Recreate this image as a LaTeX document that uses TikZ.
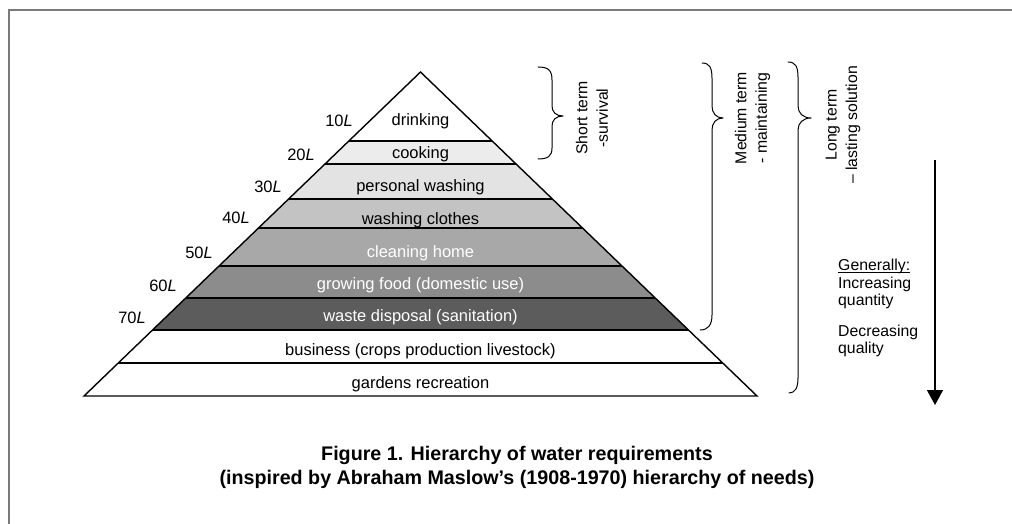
\documentclass[tikz,border=0pt]{standalone}
\usepackage{fontspec}
\setmainfont{Liberation Sans}
\usetikzlibrary{calc,arrows.meta}
\definecolor{lcook}{HTML}{ECECEC}
\definecolor{lwash}{HTML}{E3E3E3}
\definecolor{lclothes}{HTML}{C3C3C3}
\definecolor{lclean}{HTML}{A8A8A8}
\definecolor{lfood}{HTML}{8C8C8C}
\definecolor{lwaste}{HTML}{5C5C5C}
\definecolor{framegray}{HTML}{7A7A7A}
\begin{document}
\begin{tikzpicture}[x=1pt,y=-1pt,
  lbl/.style={inner sep=0pt, anchor=base, font=\fontsize{16.5}{19}\selectfont},
  wlbl/.style={lbl, text=white},
  vol/.style={inner sep=0pt, anchor=base east, font=\fontsize{16.5}{19}\selectfont},
  termtxt/.style={inner sep=0pt, rotate=90, align=center, font=\fontsize{15.8}{20.5}\selectfont},
  bracepath/.style={line width=1pt, line cap=round, line join=round},
  layerline/.style={line width=1.1pt},
]
\useasboundingbox (0,0) rectangle (1012,524);
% frame
\draw[framegray, line width=2pt] (9,524) -- (9,10) -- (1012,10);

% pyramid geometry
\coordinate (A) at (420.5,72);
\coordinate (BL) at (84,396);
\coordinate (BR) at (757,396);
\foreach \n/\y in {1/141,2/164,3/199,4/228,5/266,6/298,7/330,8/363}{
  \coordinate (L\n) at ($(A)!{(\y-72)/324}!(BL)$);
  \coordinate (R\n) at ($(A)!{(\y-72)/324}!(BR)$);
}
\fill[lcook] (L1) -- (R1) -- (R2) -- (L2) -- cycle;
\fill[lwash] (L2) -- (R2) -- (R3) -- (L3) -- cycle;
\fill[lclothes] (L3) -- (R3) -- (R4) -- (L4) -- cycle;
\fill[lclean] (L4) -- (R4) -- (R5) -- (L5) -- cycle;
\fill[lfood] (L5) -- (R5) -- (R6) -- (L6) -- cycle;
\fill[lwaste] (L6) -- (R6) -- (R7) -- (L7) -- cycle;
\foreach \n in {1,...,8}{ \draw[layerline] (L\n) -- (R\n); }
\draw[line width=1.4pt, line join=miter] (A) -- (BR) -- (BL) -- cycle;

% layer labels
\node[lbl] (drink) at (420.5,126) {drinking};
\node[lbl] (cook) at (420.5,159) {cooking};
\node[lbl] (pwash) at (420.5,191) {personal washing};
\node[lbl] (wclothes) at (420.5,224) {washing clothes};
\node[wlbl] (clean) at (420.5,257) {cleaning home};
\node[wlbl] (food) at (420.5,289) {growing food (domestic use)};
\node[wlbl] (waste) at (420.5,321) {waste disposal (sanitation)};
\node[lbl] (business) at (420.5,355) {business (crops production livestock)};
\node[lbl] (gardens) at (420.5,388) {gardens recreation};

% volume labels
\node[vol] (v10) at (353,127) {10\textit{L}};
\node[vol] (v20) at (315,160.5) {20\textit{L}};
\node[vol] (v30) at (282,193) {30\textit{L}};
\node[vol] (v40) at (250,223.5) {40\textit{L}};
\node[vol] (v50) at (213,258) {50\textit{L}};
\node[vol] (v60) at (177,291.5) {60\textit{L}};
\node[vol] (v70) at (146,323.5) {70\textit{L}};

% braces
\draw[bracepath] (538,67) .. controls (548,67) and (552,70) .. (552,80) -- (552,106)
  .. controls (552,112) and (556,116) .. (563,116)
  .. controls (556,116) and (552,120) .. (552,126) -- (552,148)
  .. controls (552,156) and (548,159) .. (538,159);
\draw[bracepath] (702,63) .. controls (709,63) and (712,67) .. (712,78) -- (712,106)
  .. controls (712,113) and (716,118) .. (723,118)
  .. controls (716,118) and (712,123) .. (712,130) -- (712,315)
  .. controls (712,325) and (708,330) .. (700,330);
\draw[bracepath] (788,62) .. controls (795,62) and (798,66) .. (798,77) -- (798,106)
  .. controls (798,113) and (803,118) .. (811,118)
  .. controls (803,118) and (798,123) .. (798,130) -- (798,378)
  .. controls (798,388) and (795,393) .. (789,393);

\node[termtxt] (short) at (592,118) {Short term\\-survival};
\node[termtxt] (medium) at (752.5,118) {Medium term\\- maintaining};
\node[termtxt] (long) at (843,125) {Long term\\– lasting solution};

% trend arrow
\coordinate (arrTop) at (935,160);
\coordinate (arrBot) at (935,405);
\draw[line width=1.4pt, -{Triangle[width=16pt,length=15pt]}] (arrTop) -- (arrBot);
\node[inner sep=0pt, anchor=north west, align=left, font=\fontsize{15.8}{17.5}\selectfont] (general) at (838,259)
  {\underline{Generall\smash{y}:}\\Increasing\\quantity\\[13pt]Decreasing\\quality};

% caption
\node[inner sep=0pt, align=center, font=\fontsize{19.7}{24}\selectfont\bfseries] (caption) at (517,467)
  {Figure 1. Hierarchy of water requirements\\(inspired by Abraham Maslow’s (1908-1970) hierarchy of needs)};
\end{tikzpicture}
\end{document}
